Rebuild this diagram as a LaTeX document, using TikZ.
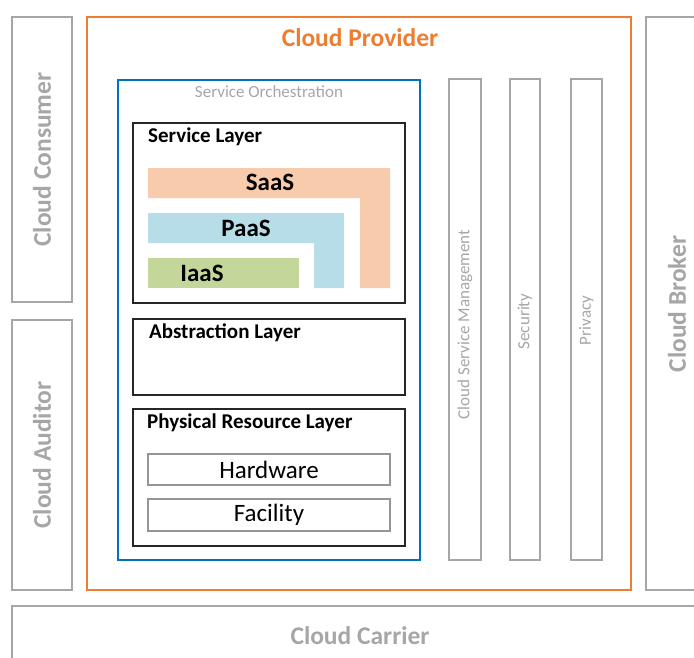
\documentclass[tikz,border=0pt]{standalone}
\usepackage{fontspec}
\setmainfont{Carlito}
\usetikzlibrary{positioning}

\definecolor{provorange}{HTML}{ED7D31}
\definecolor{orchblue}{HTML}{0070C0}
\definecolor{actorgray}{HTML}{A6A6A6}
\definecolor{saasfill}{HTML}{F8CBAD}
\definecolor{paasfill}{HTML}{B7DEE8}
\definecolor{iaasfill}{HTML}{C4D79B}
\definecolor{layerline}{HTML}{262626}

\begin{document}
\begin{tikzpicture}[
  x=1pt, y=-1pt,
  frame/.style={rectangle, anchor=north west, inner sep=0pt, outer sep=0pt},
  actor/.style={frame, draw=actorgray, line width=2pt},
  actorlabel/.style={text=actorgray, font=\fontsize{25.5}{30}\selectfont\bfseries, rotate=90},
  layer/.style={frame, draw=layerline, line width=1.3pt},
  layertitle/.style={anchor=base west, inner sep=0pt, font=\fontsize{21}{25}\selectfont\bfseries},
  resource/.style={frame, draw=actorgray!90!black, line width=1.5pt},
  bar/.style={frame, draw=actorgray, line width=2pt},
  barlabel/.style={text=actorgray, font=\fontsize{17}{20}\selectfont, rotate=90},
  model/.style={anchor=base, inner sep=0pt, font=\fontsize{25}{29}\selectfont\bfseries},
]
\useasboundingbox (0,0) rectangle (694,657);
\clip (0,0) rectangle (694,657);

% actors around the provider
\node[actor, minimum width=60, minimum height=285] (consumer) at (12,17) {};
\node[actor, minimum width=60, minimum height=270] (auditor) at (12,320) {};
\node[actor, minimum width=70, minimum height=573] (broker) at (646,17) {};
\node[actor, minimum width=700, minimum height=80] (carrier) at (12,606) {};
\node[actorlabel] (consumerlbl) at (consumer.center) {Cloud Consumer};
\node[actorlabel] (auditorlbl) at (auditor.center) {Cloud Auditor};
\node[actorlabel] (brokerlbl) at (677,304) {Cloud Broker};
\node[text=actorgray, font=\fontsize{25.5}{30}\selectfont\bfseries] (carrierlbl) at (360,636) {Cloud Carrier};

% provider and orchestration
\node[frame, draw=provorange, line width=2.5pt, minimum width=544, minimum height=573] (provider) at (87,17) {};
\node[text=provorange, font=\fontsize{25.5}{30}\selectfont\bfseries] (providerlbl) at (360,38) {Cloud Provider};
\node[frame, draw=orchblue, line width=2pt, minimum width=302, minimum height=480] (orch) at (118,80) {};
\node[text=actorgray, font=\fontsize{17}{20}\selectfont] (orchlbl) at (269,92) {Service Orchestration};

% service layer
\node[layer, minimum width=272, minimum height=180] (svclayer) at (133,123) {};
\node[layertitle] (svctitle) at (148,142) {Service Layer};
\fill[saasfill] (148,168) -| (390,288) -- (360,288) |- (148,198) -- cycle;
\fill[paasfill] (148,213) -| (344,288) -- (314,288) |- (148,243) -- cycle;
\fill[iaasfill] (148,258) rectangle (299,288);
\node[model] (saas) at (270,190) {SaaS};
\node[model] (paas) at (246,236) {PaaS};
\node[model] (iaas) at (202,281) {IaaS};

% abstraction layer
\node[layer, minimum width=272, minimum height=76] (abslayer) at (133,319) {};
\node[layertitle] (abstitle) at (149,338) {Abstraction Layer};

% physical resource layer
\node[layer, minimum width=272, minimum height=137] (phylayer) at (133,409) {};
\node[layertitle] (phytitle) at (147,428) {Physical Resource Layer};
\node[resource, minimum width=242, minimum height=31] (hardware) at (148,454) {};
\node[resource, minimum width=242, minimum height=32] (facility) at (148,499) {};
\node[font=\fontsize{25}{29}\selectfont] (hwlbl) at (hardware.center) {Hardware};
\node[font=\fontsize{25}{29}\selectfont] (faclbl) at (facility.center) {Facility};

% cross-cutting bars
\node[bar, minimum width=32, minimum height=481] (csm) at (449,79) {};
\node[bar, minimum width=30, minimum height=481] (security) at (510,79) {};
\node[bar, minimum width=31, minimum height=481] (privacy) at (571,79) {};
\node[barlabel] (csmlbl) at ([yshift=-5]csm.center) {Cloud Service Management};
\node[barlabel] (seclbl) at ([yshift=-2]security.center) {Security};
\node[barlabel] (privlbl) at ([yshift=-1]privacy.center) {Privacy};
\end{tikzpicture}
\end{document}
